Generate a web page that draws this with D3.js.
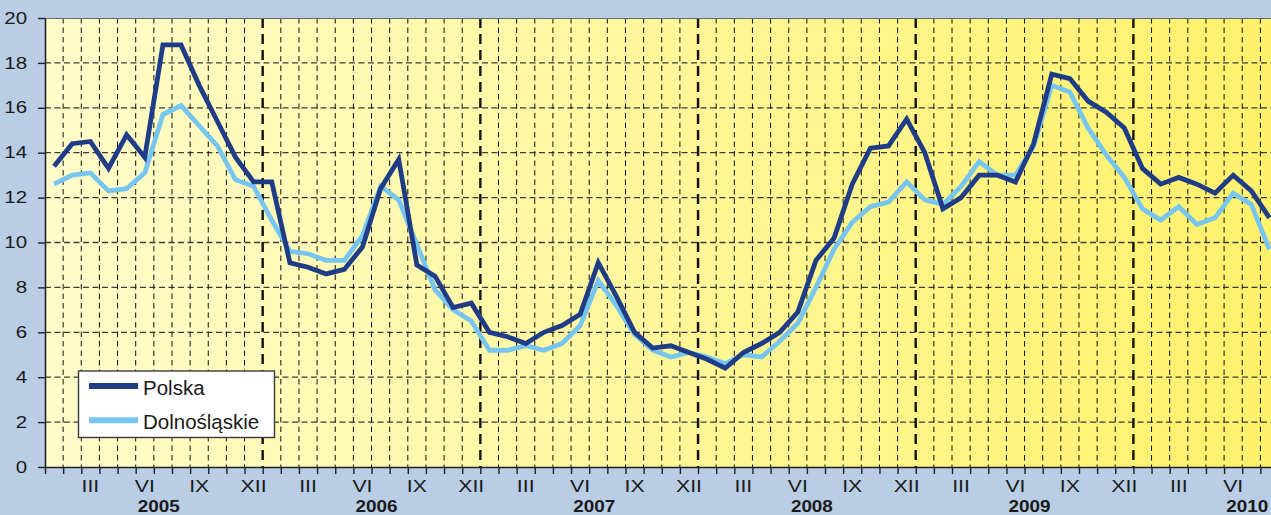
<!DOCTYPE html>
<html>
<head>
<meta charset="utf-8">
<script src="https://cdnjs.cloudflare.com/ajax/libs/d3/7.8.5/d3.min.js"></script>
<style>
  body { margin: 0; background: #b9cde5; }
  svg { display: block; font-family: "Liberation Sans", Arial, sans-serif; }
</style>
</head>
<body>
<div id="chart"></div>
<script>
// stopa bezrobocia (%), miesiące od I 2005 do VIII 2010
var years = ["2005", "2006", "2007", "2008", "2009", "2010"];
var monthLabels = ["I", "II", "III", "IV", "V", "VI", "VII", "VIII", "IX", "X", "XI", "XII"];
var seriesNames = ["Polska", "Dolnośląskie"];
var seriesColors = ["#1f3d87", "#76c6f1"];

var polska = [
  13.4, 14.4, 14.5, 13.3, 14.8, 13.8, 18.8, 18.8, 17.0, 15.4, 13.8, 12.7,
  12.7, 9.1, 8.9, 8.6, 8.8, 9.8, 12.4, 13.7, 9.0, 8.5, 7.1, 7.3,
  6.0, 5.8, 5.5, 6.0, 6.3, 6.8, 9.1, 7.6, 6.0, 5.3, 5.4, 5.1,
  4.8, 4.4, 5.1, 5.5, 6.0, 6.9, 9.2, 10.2, 12.6, 14.2, 14.3, 15.5,
  14.0, 11.5, 12.0, 13.0, 13.0, 12.7, 14.4, 17.5, 17.3, 16.3, 15.8, 15.1,
  13.3, 12.6, 12.9, 12.6, 12.2, 13.0, 12.3, 11.1
];
var dolnoslaskie = [
  12.6, 13.0, 13.1, 12.3, 12.4, 13.1, 15.7, 16.1, 15.2, 14.3, 12.8, 12.5,
  11.0, 9.6, 9.5, 9.2, 9.2, 10.3, 12.5, 11.9, 9.9, 7.9, 7.0, 6.5,
  5.2, 5.2, 5.4, 5.2, 5.5, 6.3, 8.3, 7.2, 5.9, 5.2, 4.9, 5.1,
  4.9, 4.6, 5.0, 4.9, 5.6, 6.4, 8.0, 9.7, 10.9, 11.6, 11.8, 12.7,
  11.9, 11.7, 12.5, 13.6, 13.0, 13.0, 14.3, 17.0, 16.7, 15.1, 13.9, 12.9,
  11.5, 11.0, 11.6, 10.8, 11.1, 12.2, 11.7, 9.7
];
var yTicks = [0, 2, 4, 6, 8, 10, 12, 14, 16, 18, 20];

var width = 1271, height = 515;
var plotLeft = 45, plotTop = 18, plotBottom = 467;
var monthW = 18.14;
var nMonths = years.length * 12;

var svg = d3.select("#chart").append("svg")
  .attr("width", width)
  .attr("height", height);

svg.append("rect")
  .attr("width", width).attr("height", height)
  .attr("fill", "#b9cde5");

// x: index miesiąca (granice), y: wartość
var x = d3.scaleLinear().domain([0, nMonths]).range([plotLeft, plotLeft + nMonths * monthW]);
var y = d3.scaleLinear().domain([0, 20]).range([plotBottom, plotTop]);

var grad = svg.append("defs").append("linearGradient")
  .attr("id", "bg")
  .attr("gradientUnits", "userSpaceOnUse")
  .attr("x1", plotLeft).attr("x2", width).attr("y1", 0).attr("y2", 0);
grad.append("stop").attr("offset", 0).attr("stop-color", "#fffcca");
grad.append("stop").attr("offset", 1).attr("stop-color", "#fff16b");

svg.append("rect")
  .attr("x", plotLeft).attr("y", plotTop)
  .attr("width", x(nMonths) - plotLeft).attr("height", plotBottom - plotTop)
  .attr("fill", "url(#bg)");

// siatka pozioma
svg.selectAll(".hgrid")
  .data(yTicks.slice(1, -1))
  .enter()
  .append("line")
  .attr("class", "hgrid")
  .attr("x1", plotLeft).attr("x2", x(nMonths))
  .attr("y1", function (d) { return y(d); })
  .attr("y2", function (d) { return y(d); })
  .attr("stroke", "#3c3c3c")
  .attr("stroke-width", 1.3)
  .attr("stroke-dasharray", "6,3.5");

// siatka pionowa - miesiące i lata
var boundaries = d3.range(1, nMonths);
svg.selectAll(".vgrid")
  .data(boundaries)
  .enter()
  .append("line")
  .attr("class", "vgrid")
  .attr("x1", function (d) { return x(d); })
  .attr("x2", function (d) { return x(d); })
  .attr("y1", plotTop).attr("y2", plotBottom)
  .attr("stroke", "#111")
  .attr("stroke-width", function (d) { return d % 12 === 0 ? 2.4 : 1; })
  .attr("stroke-dasharray", function (d) { return d % 12 === 0 ? "10,6" : "5.5,4"; });

// górna krawędź
svg.append("line")
  .attr("x1", plotLeft).attr("x2", x(nMonths))
  .attr("y1", plotTop + 0.5).attr("y2", plotTop + 0.5)
  .attr("stroke", "#6a6a6a").attr("stroke-width", 1);

// linie serii
var line = d3.line()
  .x(function (d, i) { return x(i + 0.5); })
  .y(function (d) { return y(d); });

[dolnoslaskie, polska].forEach(function (data, k) {
  var idx = k === 0 ? 1 : 0;
  svg.append("path")
    .datum(data)
    .attr("fill", "none")
    .attr("stroke", seriesColors[idx])
    .attr("stroke-width", 4.8)
    .attr("stroke-linejoin", "miter")
    .attr("d", line);
});

// oś Y
var yAxis = svg.append("g")
  .attr("transform", "translate(" + plotLeft + ",0)")
  .call(d3.axisLeft(y).tickValues(yTicks).tickSize(7).tickPadding(7).tickSizeOuter(0));
yAxis.select(".domain").attr("stroke", "#222").attr("stroke-width", 1.6);
yAxis.selectAll(".tick line").attr("stroke", "#222").attr("stroke-width", 1.4);
yAxis.selectAll(".tick text")
  .attr("font-size", 16)
  .attr("fill", "#1a1a1a")
  .attr("font-family", "'Liberation Sans', Arial, sans-serif")
  .attr("transform", "scale(1.28,1)");

// oś X - znaczniki na granicach miesięcy
var xAxis = svg.append("g")
  .attr("transform", "translate(0," + plotBottom + ")")
  .call(d3.axisBottom(x).tickValues(d3.range(0, nMonths + 1)).tickFormat("").tickSize(7).tickSizeOuter(0));
xAxis.select(".domain").attr("stroke", "#222").attr("stroke-width", 1.6);
xAxis.selectAll(".tick line").attr("stroke", "#222").attr("stroke-width", 1.4);

// etykiety miesięcy (co trzeci, tylko te mieszczące się w obrazku)
var labelled = d3.range(0, nMonths).filter(function (i) {
  return i % 3 === 2 && x(i + 0.5) + 14 < width;
});
svg.selectAll(".mlabel")
  .data(labelled)
  .enter()
  .append("text")
  .attr("class", "mlabel")
  .attr("transform", function (d) { return "translate(" + x(d + 0.5) + ",491.5) scale(1.25,1)"; })
  .attr("text-anchor", "middle")
  .attr("font-size", 17)
  .attr("fill", "#1a1a1a")
  .text(function (d) { return monthLabels[d % 12]; });

// etykiety lat
svg.selectAll(".ylabel")
  .data(years)
  .enter()
  .append("text")
  .attr("class", "ylabel")
  .attr("transform", function (d, i) { return "translate(" + (x(i * 12 + 6) + 5) + ",512) scale(1.18,1)"; })
  .attr("text-anchor", "middle")
  .attr("font-size", 16)
  .attr("font-weight", "bold")
  .attr("fill", "#1a1a1a")
  .text(function (d) { return d; });

// legenda
var legend = svg.append("g");
legend.append("rect")
  .attr("x", 78.5).attr("y", 371)
  .attr("width", 196).attr("height", 66.5)
  .attr("fill", "#fff")
  .attr("stroke", "#3a3a3a")
  .attr("stroke-width", 1.4);

var legendDY = 34.3;
legend.selectAll(".legend-line")
  .data(seriesNames)
  .enter()
  .append("line")
  .attr("class", "legend-line")
  .attr("x1", 89).attr("x2", 138)
  .attr("y1", function (d, i) { return 386 + i * legendDY; })
  .attr("y2", function (d, i) { return 386 + i * legendDY; })
  .attr("stroke", function (d, i) { return seriesColors[i]; })
  .attr("stroke-width", 6);

legend.selectAll(".legend-text")
  .data(seriesNames)
  .enter()
  .append("text")
  .attr("class", "legend-text")
  .attr("x", 143)
  .attr("y", function (d, i) { return 394.5 + i * legendDY; })
  .attr("font-size", 20.5)
  .attr("fill", "#1a1a1a")
  .text(function (d) { return d; });
</script>
</body>
</html>
